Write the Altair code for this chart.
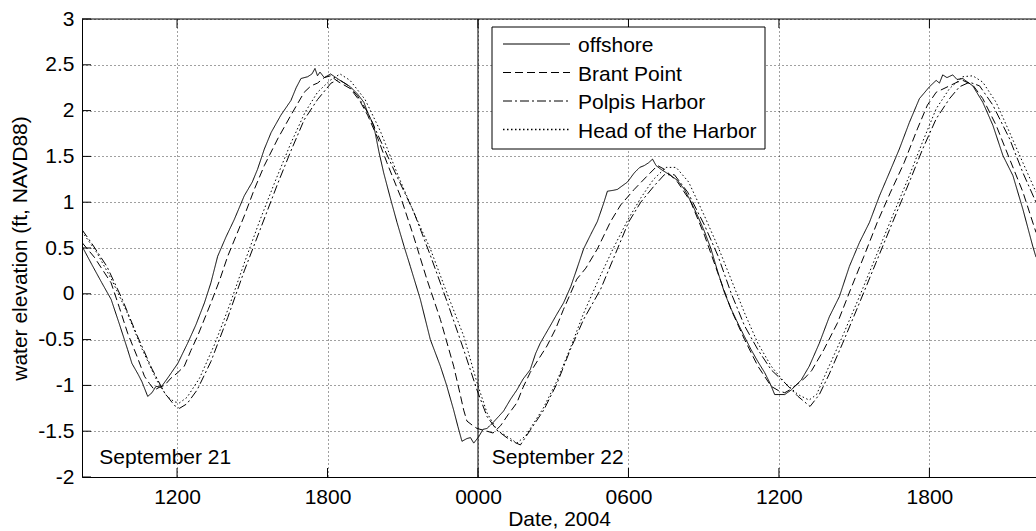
import altair as alt
import pandas as pd

# ---------------- data (hours since 2004-09-21 00:00, feet NAVD88) ----------------
series_names = ["offshore", "Brant Point", "Polpis Harbor", "Head of the Harbor"]

offshore_t = [8.21, 8.6, 9.0, 9.37, 9.7, 10.03, 10.2, 10.45, 10.6, 10.83, 11.0, 11.16, 11.36, 11.6,
              12.03, 12.42, 12.75, 13.09, 13.35, 13.62, 13.95, 14.28, 14.68, 15.0, 15.21, 15.48, 15.75,
              16.14, 16.54, 16.75, 16.94, 17.21, 17.38, 17.5, 17.6, 17.7, 17.87, 18.12, 18.5, 18.91,
              19.2, 19.45, 19.6, 19.84, 20.05, 20.24, 20.5, 20.77, 21.05, 21.3, 21.7, 22.1, 22.5,
              22.75, 23.03, 23.2, 23.36, 23.56, 23.7, 23.83, 24.03, 24.2, 24.36, 24.62, 25.02, 25.3,
              25.55, 25.8, 26.08, 26.3, 26.48, 26.88, 27.15, 27.41, 27.7, 27.94, 28.21, 28.5, 28.76,
              29.0, 29.16, 29.4, 29.56, 29.96, 30.23, 30.45, 30.63, 30.8, 30.96, 31.1, 31.29, 31.69,
              31.95, 32.23, 32.5, 32.76, 33.03, 33.29, 33.55, 33.83, 34.1, 34.36, 34.63, 34.89, 35.16,
              35.43, 35.65, 35.83, 36.0, 36.23, 36.49, 36.89, 37.21, 37.61, 38.01, 38.41, 38.81,
              39.21, 39.61, 40.01, 40.4, 40.8, 41.2, 41.6, 42.0, 42.27, 42.4, 42.53, 42.7, 42.93,
              43.1, 43.33, 43.73, 44.13, 44.53, 44.93, 45.33, 45.73, 46.12, 46.25]
offshore_v = [0.52, 0.32, 0.12, -0.06, -0.33, -0.61, -0.76, -0.88, -0.96, -1.12, -1.08, -1.01, -1.02, -0.93,
              -0.76, -0.54, -0.34, -0.10, 0.12, 0.41, 0.62, 0.81, 1.07, 1.22, 1.36, 1.58, 1.76,
              1.95, 2.11, 2.25, 2.35, 2.37, 2.40, 2.46, 2.38, 2.42, 2.36, 2.40, 2.33, 2.26,
              2.18, 2.09, 1.98, 1.84, 1.55, 1.32, 1.05, 0.78, 0.52, 0.30, -0.06, -0.50, -0.79,
              -1.00, -1.27, -1.45, -1.61, -1.58, -1.57, -1.63, -1.56, -1.48, -1.47, -1.40, -1.28, -1.15,
              -1.05, -0.93, -0.83, -0.65, -0.54, -0.35, -0.22, -0.10, 0.08, 0.27, 0.49, 0.65, 0.79,
              0.98, 1.12, 1.13, 1.14, 1.22, 1.32, 1.38, 1.40, 1.43, 1.47, 1.40, 1.36, 1.29,
              1.24, 1.14, 1.00, 0.85, 0.68, 0.49, 0.25, 0.01, -0.17, -0.32, -0.47, -0.61, -0.74,
              -0.86, -0.98, -1.10, -1.10, -1.10, -1.05, -0.94, -0.79, -0.54, -0.25, -0.03, 0.30,
              0.56, 0.78, 1.07, 1.32, 1.58, 1.87, 2.13, 2.26, 2.33, 2.30, 2.39, 2.36, 2.39,
              2.34, 2.35, 2.27, 2.09, 1.84, 1.51, 1.29, 0.92, 0.52, 0.40]

brant_t = [8.21, 8.7, 9.37, 9.7, 10.03, 10.4, 10.7, 10.9, 11.1, 11.3, 11.5, 11.76, 12.03, 12.29, 12.55,
           12.82, 13.35, 13.7, 14.02, 14.35, 14.68, 15.08, 15.48, 16.01, 16.54, 17.07, 17.34, 17.6,
           17.87, 18.12, 18.4, 18.91, 19.3, 19.6, 20.0, 20.37, 20.9, 21.43, 21.96, 22.5, 23.03,
           23.25, 23.43, 23.56, 23.8, 23.96, 24.36, 24.6, 24.9, 25.2, 25.55, 25.8, 26.08, 26.4,
           26.75, 27.1, 27.41, 27.94, 28.3, 28.76, 29.29, 29.69, 30.23, 30.76, 31.16, 31.43, 31.96,
           32.49, 33.03, 33.56, 34.09, 34.63, 35.16, 35.69, 36.0, 36.23, 36.49, 37.03, 37.3, 37.79,
           38.33, 38.86, 39.39, 39.92, 40.45, 40.99, 41.52, 41.92, 42.27, 42.8, 43.1, 43.33, 43.73,
           44.13, 44.66, 45.2, 45.73, 46.25]
brant_v = [0.56, 0.40, 0.12, -0.15, -0.43, -0.68, -0.90, -0.98, -1.05, -1.02, -1.00, -0.92, -0.86, -0.79, -0.62,
           -0.46, -0.10, 0.15, 0.41, 0.63, 0.85, 1.14, 1.40, 1.69, 1.95, 2.20, 2.27, 2.30,
           2.36, 2.38, 2.32, 2.24, 2.10, 1.95, 1.70, 1.43, 1.07, 0.63, 0.16, -0.28, -0.79,
           -1.05, -1.27, -1.39, -1.44, -1.47, -1.50, -1.52, -1.44, -1.32, -1.19, -1.02, -0.86, -0.72,
           -0.57, -0.38, -0.17, 0.16, 0.28, 0.49, 0.79, 0.97, 1.14, 1.29, 1.40, 1.36, 1.22,
           1.00, 0.64, 0.23, -0.17, -0.50, -0.79, -1.01, -1.06, -1.08, -1.04, -0.92, -0.84, -0.61,
           -0.32, 0.05, 0.41, 0.78, 1.11, 1.43, 1.80, 2.06, 2.20, 2.27, 2.31, 2.33, 2.28,
           2.13, 1.84, 1.47, 1.11, 0.67]

polpis_t = [8.21, 8.6, 9.2, 9.8, 10.4, 11.0, 11.5, 11.9, 12.1, 12.4, 12.8, 13.35, 14.02, 14.68, 15.34,
            16.01, 16.54, 17.07, 17.6, 18.14, 18.45, 18.8, 19.2, 19.6, 20.2, 20.77, 21.43, 22.1,
            22.76, 23.43, 23.96, 24.36, 24.76, 25.29, 25.69, 26.08, 26.62, 27.15, 27.68, 28.21,
            28.89, 29.56, 30.0, 30.49, 31.03, 31.43, 31.83, 32.36, 33.03, 33.56, 34.09, 34.63,
            35.16, 35.69, 36.23, 36.76, 37.24, 37.61, 38.0, 38.54, 39.21, 39.87, 40.53, 41.2,
            41.73, 42.27, 42.8, 43.2, 43.6, 44.0, 44.53, 45.2, 45.73, 46.25]
polpis_v = [0.70, 0.55, 0.30, -0.05, -0.45, -0.82, -1.08, -1.22, -1.25, -1.20, -1.05, -0.74, -0.26, 0.25, 0.72,
            1.20, 1.56, 1.90, 2.12, 2.30, 2.34, 2.28, 2.16, 1.98, 1.62, 1.28, 0.90, 0.42,
            -0.08, -0.61, -1.05, -1.34, -1.49, -1.60, -1.65, -1.49, -1.27, -0.98, -0.61, -0.28,
            0.05, 0.49, 0.78, 1.00, 1.18, 1.30, 1.30, 1.11, 0.75, 0.42, 0.01, -0.35,
            -0.61, -0.83, -0.97, -1.12, -1.23, -1.10, -0.88, -0.54, -0.10, 0.34, 0.78, 1.22,
            1.58, 1.91, 2.13, 2.26, 2.31, 2.27, 2.06, 1.69, 1.32, 1.00]

head_t = [8.21, 8.8, 9.4, 10.0, 10.6, 11.2, 11.6, 11.9, 12.1, 12.4, 12.9, 13.5, 14.1, 14.7, 15.3,
          15.9, 16.5, 17.1, 17.6, 18.1, 18.5, 18.9, 19.5, 20.1, 20.8, 21.5, 22.1, 22.76, 23.43,
          23.96, 24.36, 24.76, 25.29, 25.55, 25.9, 26.6, 27.15, 27.7, 28.2, 28.8, 29.4, 30.0,
          30.5, 31.0, 31.5, 31.9, 32.4, 33.03, 33.56, 34.09, 34.63, 35.16, 35.69, 36.23, 36.76,
          37.2, 37.5, 37.9, 38.54, 39.21, 39.87, 40.53, 41.2, 41.73, 42.27, 42.8, 43.33, 43.73,
          44.13, 44.66, 45.2, 45.73, 46.25]
head_v = [0.68, 0.45, 0.15, -0.20, -0.60, -0.95, -1.12, -1.18, -1.19, -1.13, -0.92, -0.55, -0.12, 0.35, 0.80,
          1.22, 1.62, 1.98, 2.20, 2.33, 2.40, 2.33, 2.12, 1.78, 1.30, 0.85, 0.49, 0.01, -0.46,
          -0.97, -1.30, -1.49, -1.58, -1.63, -1.55, -1.25, -0.95, -0.58, -0.22, 0.15, 0.50, 0.82,
          1.05, 1.25, 1.38, 1.38, 1.22, 0.85, 0.52, 0.16, -0.21, -0.54, -0.79, -0.97, -1.10,
          -1.16, -1.10, -0.85, -0.46, -0.03, 0.41, 0.85, 1.29, 1.66, 2.02, 2.24, 2.37, 2.38,
          2.31, 2.09, 1.76, 1.43, 1.11]

x_tick_values = [12, 18, 24, 30, 36, 42]
x_tick_labels = ["1200", "1800", "0000", "0600", "1200", "1800"]
y_tick_values = [-2, -1.5, -1, -0.5, 0, 0.5, 1, 1.5, 2, 2.5, 3]
day_labels = ["September 21", "September 22"]
day_label_t = [8.9, 24.55]
day_label_v = [-1.86, -1.86]
midnight_t = [24]

# ---------------- layout / style ----------------
W, H = 954, 458
X_DOMAIN = [8.21, 46.25]
Y_DOMAIN = [-2, 3]
FONT = "Liberation Sans"
FS = 21
TICK = 9
dash_styles = [[1, 0], [8, 4], [9, 3, 2, 3], [1.5, 2.5]]
line_widths = [1, 1, 1, 1.3]

rows = []
for name, ts, vs in zip(series_names,
                        [offshore_t, brant_t, polpis_t, head_t],
                        [offshore_v, brant_v, polpis_v, head_v]):
    for t, v in zip(ts, vs):
        rows.append({"series": name, "t": t, "v": v})
df = pd.DataFrame(rows)

x_label_expr = " : ".join(f"datum.value == {v} ? '{l}'" for v, l in zip(x_tick_values, x_tick_labels)) + " : ''"

X_ENC = alt.X("t:Q",
              scale=alt.Scale(domain=X_DOMAIN, nice=False, zero=False),
              axis=alt.Axis(values=x_tick_values, labelExpr=x_label_expr, title="Date, 2004",
                            grid=True, ticks=False, tickSize=0, labelPadding=9, titlePadding=1,
                            labelFlush=False, labelOverlap=False))
Y_ENC = alt.Y("v:Q",
              scale=alt.Scale(domain=Y_DOMAIN, nice=False, zero=False),
              axis=alt.Axis(values=y_tick_values, labelExpr="'' + datum.value",
                            title="water elevation (ft, NAVD88)",
                            grid=True, ticks=False, tickSize=0, labelPadding=8, titlePadding=7,
                            labelOverlap=False))

lines = alt.Chart(df).mark_line(color="black", clip=True).encode(
    x=X_ENC, y=Y_ENC,
    strokeDash=alt.StrokeDash("series:N", scale=alt.Scale(domain=series_names, range=dash_styles),
                              legend=None),
    strokeWidth=alt.StrokeWidth("series:N", scale=alt.Scale(domain=series_names, range=line_widths),
                                legend=None),
    detail="series:N",
)

midnight = alt.Chart(pd.DataFrame({"t": midnight_t})).mark_rule(color="black", strokeWidth=1).encode(x=X_ENC)

xt = pd.DataFrame({"t": x_tick_values})
yt = pd.DataFrame({"v": y_tick_values})
xticks_bottom = alt.Chart(xt).mark_rule(color="black").encode(x=X_ENC, y=alt.value(H - TICK), y2=alt.value(H))
xticks_top = alt.Chart(xt).mark_rule(color="black").encode(x=X_ENC, y=alt.value(0), y2=alt.value(TICK))
yticks_left = alt.Chart(yt).mark_rule(color="black").encode(y=Y_ENC, x=alt.value(0), x2=alt.value(TICK))
top_border = alt.Chart(pd.DataFrame({"a": [0]})).mark_rule(color="black").encode(
    x=alt.value(0), x2=alt.value(W), y=alt.value(0))

day_df = pd.DataFrame({"t": day_label_t, "v": day_label_v, "label": day_labels})
day_text = alt.Chart(day_df).mark_text(align="left", baseline="alphabetic", fontSize=FS, font=FONT,
                                       color="black").encode(x=X_ENC, y=Y_ENC, text="label:N")

# legend (drawn by hand, MATLAB style)
LX0, LX1, LY0, LY1 = 410, 683, 8, 130
legend_layers = [
    alt.Chart(pd.DataFrame({"a": [0]})).mark_rect(fill="white", stroke="black", strokeWidth=1).encode(
        x=alt.value(LX0), x2=alt.value(LX1), y=alt.value(LY0), y2=alt.value(LY1))
]
for i, (name, dash, lw) in enumerate(zip(series_names, dash_styles, line_widths)):
    ly = 25 + 28.5 * i
    legend_layers.append(
        alt.Chart(pd.DataFrame({"a": [0]})).mark_rule(color="black", strokeWidth=lw, strokeDash=dash).encode(
            x=alt.value(421), x2=alt.value(488), y=alt.value(ly)))
    legend_layers.append(
        alt.Chart(pd.DataFrame({"a": [0]})).mark_text(align="left", baseline="alphabetic", fontSize=FS,
                                                       font=FONT, color="black").encode(
            x=alt.value(496), y=alt.value(ly + 8), text=alt.value(name)))

chart = alt.layer(
    midnight, lines, xticks_bottom, xticks_top, yticks_left, top_border, day_text, *legend_layers
).properties(
    width=W, height=H,
    autosize=alt.AutoSizeParams(type="none"),
    padding={"left": 82, "top": 19, "right": 0, "bottom": 54},
    background="white",
).configure_view(strokeWidth=0).configure_axis(
    labelFont=FONT, titleFont=FONT, labelFontSize=FS, titleFontSize=FS,
    labelColor="black", titleColor="black", titleFontWeight="normal",
    domainColor="black", domainWidth=1,
    gridColor="black", gridDash=[1, 3], gridOpacity=0.75, gridWidth=1,
)

chart.save("out.html", embed_options={"renderer": "svg", "actions": False})
